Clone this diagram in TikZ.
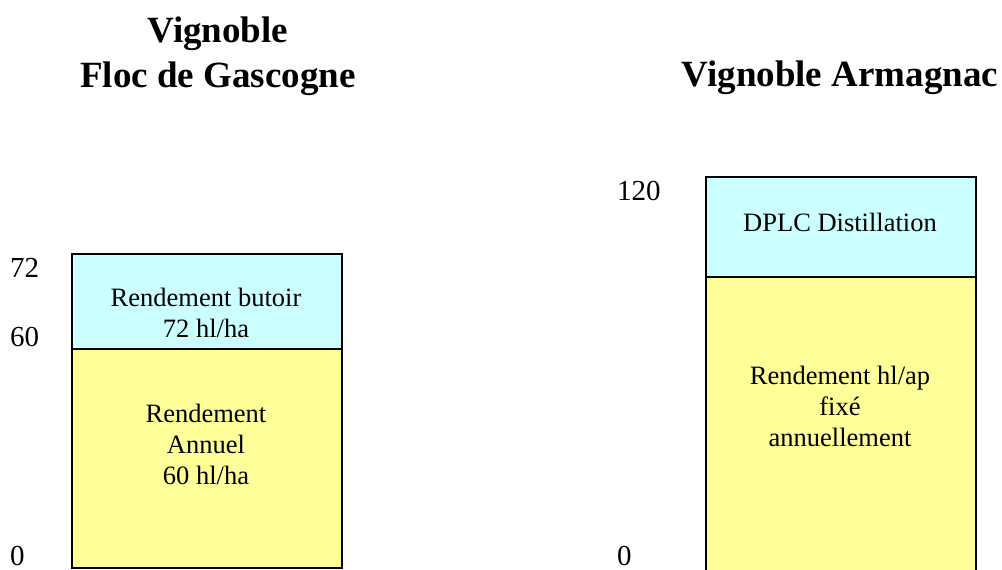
\documentclass[tikz,border=0pt]{standalone}
\usepackage{fontspec}
\setmainfont{Liberation Serif}
\definecolor{topcyan}{HTML}{CCFFFF}
\definecolor{baseyellow}{HTML}{FFFF99}

\begin{document}
\begin{tikzpicture}[x=1pt, y=-1pt,
        band/.style={
            % The shape:
            rectangle,
            anchor=north west,
            inner sep=0pt,
            % The size:
            minimum width=270pt,
            % The border
            line width=1.7pt,
            draw=black
        },
        upper/.style={band, fill=topcyan},
        lower/.style={band, fill=baseyellow},
        inside/.style={
            % Font
            font=\fontsize{26.5}{31}\selectfont,
            align=center
        },
        scalemark/.style={anchor=west, inner sep=0pt, font=\fontsize{29}{34}\selectfont},
        heading/.style={align=center, font=\bfseries\fontsize{37}{45}\selectfont}]

        \clip (0,0) rectangle (1002,570);
        \useasboundingbox (0,0) rectangle (1002,570);

        % Floc de Gascogne
        \node [heading] (floctitle) at (218,56) {Vignoble\\Floc de Gascogne};
        \node [lower, minimum height=219pt] (flocbase) at (71,348) {};
        \node [upper, minimum height=95pt] (floctop) at (71,253) {};
        \node [inside] (floctoptext) at (206,313) {Rendement butoir\\72 hl/ha};
        \node [inside] (flocbasetext) at (206,444) {Rendement\\Annuel\\60 hl/ha};

        % Armagnac
        \node [heading] (armtitle) at (840,78) {Vignoble Armagnac};
        \node [lower, minimum height=320pt] (armbase) at (705,276) {};
        \node [upper, minimum height=100pt] (armtop) at (705,176) {};
        \node [inside] (armtoptext) at (840,222) {DPLC Distillation};
        \node [inside] (armbasetext) at (840,406) {Rendement hl/ap\\fixé\\annuellement};

        \foreach \x/\y/\ytext in {10/268/72, 10/337/60, 10/556/0, 617/191/120, 617/556/0}
        {
            \node [scalemark] at (\x,\y) {\ytext};
        }

    \end{tikzpicture}
\end{document}
